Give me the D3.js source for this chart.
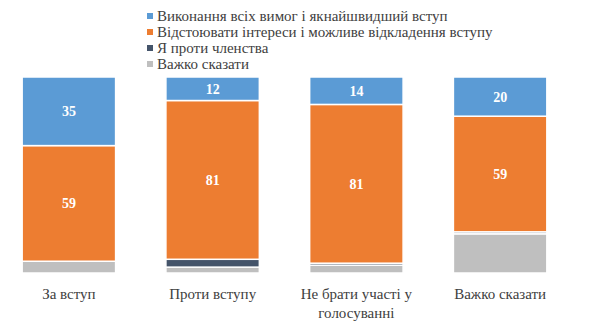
<!DOCTYPE html>
<html>
<head>
<meta charset="utf-8">
<script src="https://cdn.jsdelivr.net/npm/d3@7"></script>
<style>
  html, body { margin: 0; padding: 0; background: #fff; }
  svg { display: block; }
</style>
</head>
<body>
<svg id="chart" width="597" height="332"></svg>
<script>
// Categories (two-line labels split with "\n")
const categories = ["За вступ", "Проти вступу", "Не брати участі у\nголосуванні", "Важко сказати"];

// Series names, in stacking order from top to bottom
const seriesNames = [
  "Виконання всіх вимог і якнайшвидший вступ",
  "Відстоювати інтереси і можливе відкладення вступу",
  "Я проти членства",
  "Важко сказати"
];
const seriesColors = ["#5B9BD5", "#ED7D31", "#44546A", "#BFBFBF"];

// Values per series, one per category
const fastJoin   = [35, 12, 14, 20];
const defend     = [59, 81, 81, 59];
const against    = [0, 4, 1, 1];
const hardToSay  = [6, 3, 4, 20];
const seriesValues = [fastJoin, defend, against, hardToSay];
const labelledSeries = [0, 1];

const FONT = '"Liberation Serif"';
const svg = d3.select("#chart");

const x = d3.scaleBand()
  .domain(categories)
  .range([-3, 572])
  .paddingInner(0.35)
  .paddingOuter(0.175);

const y = d3.scaleLinear().domain([0, 100]).range([273, 77]);

// Build stacked rows: top series at the top of the bar
const rows = categories.map((c, i) => {
  const r = { cat: c };
  seriesNames.forEach((s, k) => r[s] = seriesValues[k][i]);
  return r;
});
const stack = d3.stack().keys(seriesNames.slice().reverse());
const stacked = stack(rows);

const g = svg.append("g");
stacked.forEach(layer => {
  const k = seriesNames.indexOf(layer.key);
  g.selectAll(null)
    .data(layer)
    .enter()
    .append("rect")
    .attr("x", d => x(d.data.cat))
    .attr("width", x.bandwidth())
    .attr("y", d => y(d[1]))
    .attr("height", d => Math.max(0, y(d[0]) - y(d[1])))
    .attr("fill", seriesColors[k])
    .attr("stroke", "#fff")
    .attr("stroke-width", d => (d[1] - d[0]) > 0 ? 1.5 : 0);

  if (labelledSeries.includes(k)) {
    g.selectAll(null)
      .data(layer)
      .enter()
      .append("text")
      .attr("x", d => x(d.data.cat) + x.bandwidth() / 2)
      .attr("y", d => (y(d[0]) + y(d[1])) / 2)
      .attr("dy", "0.35em")
      .attr("text-anchor", "middle")
      .style("font-family", FONT)
      .style("font-weight", "bold")
      .style("font-size", "14px")
      .attr("fill", "#fff")
      .text(d => d.data[layer.key]);
  }
});

// Category axis labels
const xAxis = g.append("g").attr("transform", "translate(0,273)")
  .call(d3.axisBottom(x).tickSize(0).tickFormat(""));
xAxis.select(".domain").remove();
xAxis.selectAll(".tick").each(function(d) {
  const lines = d.split("\n");
  const t = d3.select(this).append("text")
    .attr("text-anchor", "middle")
    .style("font-family", FONT)
    .style("font-size", "15px")
    .attr("fill", "#404040");
  lines.forEach((ln, i) => {
    t.append("tspan").attr("x", 0).attr("y", 26 + i * 19).text(ln);
  });
});

// Legend
const legend = svg.append("g").attr("transform", "translate(147,0)");
seriesNames.forEach((s, k) => {
  const yy = 16 + k * 16;
  legend.append("rect")
    .attr("x", 0).attr("y", yy - 3)
    .attr("width", 6).attr("height", 6)
    .attr("fill", seriesColors[k]);
  legend.append("text")
    .attr("x", 10).attr("y", yy)
    .attr("dy", "0.35em")
    .style("font-family", FONT)
    .style("font-size", "15px")
    .attr("fill", "#404040")
    .text(s);
});
</script>
</body>
</html>
